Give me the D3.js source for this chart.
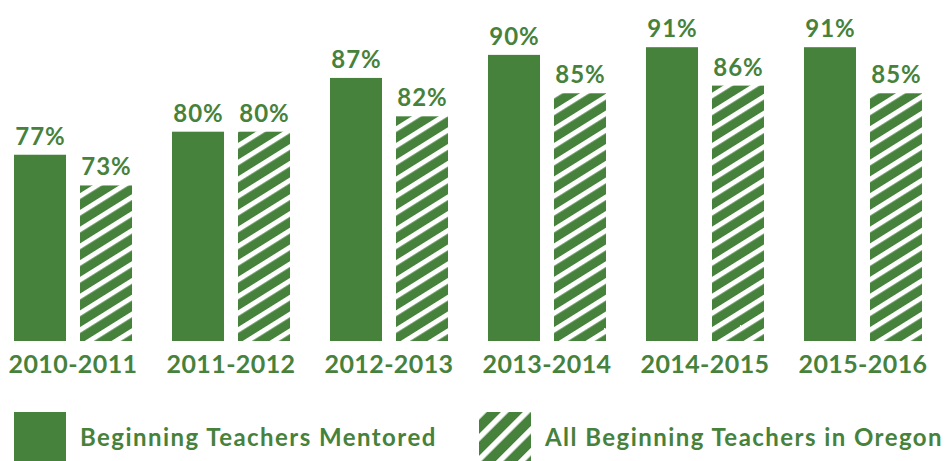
<!DOCTYPE html>
<html>
<head>
<meta charset="utf-8">
<script src="https://cdn.jsdelivr.net/npm/d3@7"></script>
<style>
  body { margin: 0; background: #fff; }
  svg { display: block; font-family: Lato, "Open Sans", sans-serif; }
</style>
</head>
<body>
<svg id="chart"></svg>
<script>
// data
const years = ['2010-2011', '2011-2012', '2012-2013', '2013-2014', '2014-2015', '2015-2016'];
const mentored = [77, 80, 87, 90, 91, 91];
const allOregon = [73, 80, 82, 85, 86, 85];
const seriesNames = ['Beginning Teachers Mentored', 'All Beginning Teachers in Oregon'];

const green = '#46823c';
const width = 947, height = 461;

const svg = d3.select('#chart')
    .attr('width', width)
    .attr('height', height);

// hatch patterns
const defs = svg.append('defs');
function hatch(id, angle, period, stripe) {
    const p = defs.append('pattern')
        .attr('id', id)
        .attr('patternUnits', 'userSpaceOnUse')
        .attr('width', 20)
        .attr('height', period)
        .attr('patternTransform', `rotate(${angle})`);
    p.append('rect').attr('width', 20).attr('height', period).attr('fill', green);
    p.append('rect').attr('y', 0).attr('width', 20).attr('height', stripe).attr('fill', '#fff');
}
hatch('hatch-bar', -32, 14.2, 5);
hatch('hatch-legend', -45, 15.5, 5.5);

const data = years.map((y, i) => ({year: y, values: [mentored[i], allOregon[i]]}));

// scales
const x0 = d3.scaleBand()
    .domain(years)
    .range([14, 922])
    .paddingInner(0.253)
    .paddingOuter(0);

const x1 = d3.scaleBand()
    .domain([0, 1])
    .range([0, x0.bandwidth()])
    .paddingInner(0.212);

const y = d3.scaleLinear()
    .domain([52.75, 91])
    .range([341, 47.2]);

const groups = svg.append('g')
    .selectAll('g')
    .data(data)
    .join('g')
    .attr('transform', d => `translate(${x0(d.year)},0)`);

groups.selectAll('rect')
    .data(d => d.values.map((v, k) => ({k, v})))
    .join('rect')
    .attr('x', d => x1(d.k))
    .attr('y', d => y(d.v))
    .attr('width', x1.bandwidth())
    .attr('height', d => y(y.domain()[0]) - y(d.v))
    .attr('fill', d => d.k === 0 ? green : 'url(#hatch-bar)');

groups.selectAll('text.val')
    .data(d => d.values.map((v, k) => ({k, v})))
    .join('text')
    .attr('class', 'val')
    .attr('x', d => x1(d.k) + x1.bandwidth() / 2 + 0.5)
    .attr('y', d => y(d.v) - 10)
    .attr('text-anchor', 'middle')
    .attr('fill', green)
    .attr('font-weight', 'bold')
    .attr('font-size', 24)
    .attr('letter-spacing', 1)
    .text(d => d.v + '%');

// category axis labels
const xAxis = d3.axisBottom(x0).tickSize(0).tickPadding(0);
svg.append('g')
    .attr('transform', 'translate(0,355)')
    .call(xAxis)
    .call(g => g.select('.domain').remove())
    .call(g => g.selectAll('text')
        .attr('dy', null)
        .attr('y', 18)
        .attr('fill', green)
        .attr('font-family', 'Lato, "Open Sans", sans-serif')
        .attr('font-weight', 'bold')
        .attr('font-size', 25)
        .attr('letter-spacing', 0.4));

// legend
const legend = svg.append('g');
const legendX = [14, 479];
seriesNames.forEach((name, i) => {
    const g = legend.append('g').attr('transform', `translate(${legendX[i]},412)`);
    g.append('rect')
        .attr('width', 52)
        .attr('height', 49)
        .attr('fill', i === 0 ? green : 'url(#hatch-legend)');
    g.append('text')
        .attr('x', 66)
        .attr('y', 34)
        .attr('fill', green)
        .attr('font-weight', 'bold')
        .attr('font-size', 24)
        .attr('letter-spacing', 1.45)
        .text(name);
});
</script>
</body>
</html>
